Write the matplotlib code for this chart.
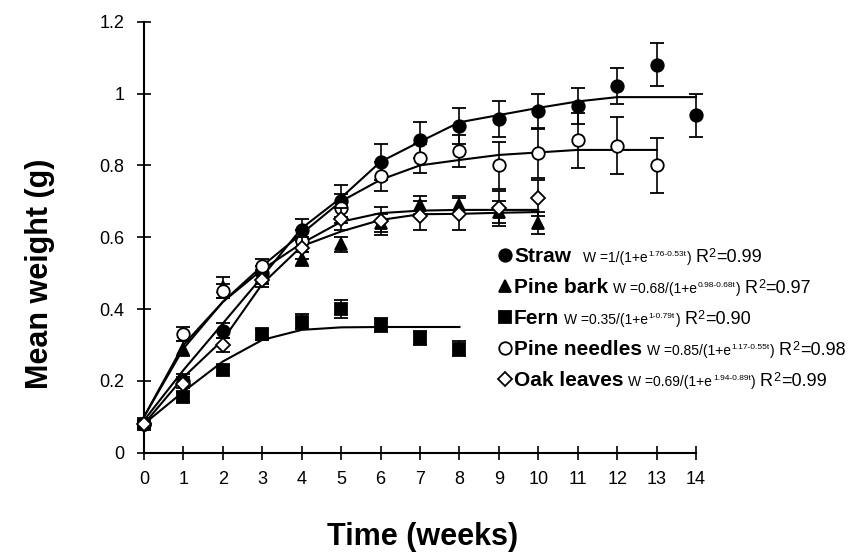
import matplotlib
matplotlib.use('Agg')
import matplotlib.pyplot as plt
from matplotlib.lines import Line2D

plt.rcParams['font.family'] = ['Liberation Sans', 'DejaVu Sans']

# ---------------- data ----------------
weeks = list(range(15))

straw = [0.08, 0.20, 0.34, 0.50, 0.62, 0.70, 0.81, 0.87, 0.91, 0.93, 0.95, 0.965, 1.02, 1.08, 0.94]
straw_err = [0.01, 0.02, 0.02, 0.02, 0.03, 0.045, 0.05, 0.05, 0.05, 0.05, 0.05, 0.05, 0.05, 0.06, 0.06]
straw_fit = [0.09, 0.23, 0.36, 0.49, 0.625, 0.71, 0.81, 0.866, 0.92, 0.94, 0.96, 0.978, 0.99, 0.99, 0.99]

pine_bark = [0.08, 0.29, 0.46, 0.49, 0.54, 0.58, 0.64, 0.69, 0.69, 0.67, 0.64]
pine_bark_err = [0.01, 0.02, 0.03, 0.02, 0.02, 0.02, 0.025, 0.025, 0.025, 0.03, 0.03]
pine_bark_fit = [0.10, 0.29, 0.42, 0.51, 0.583, 0.643, 0.667, 0.674, 0.676, 0.676, 0.676]

fern = [0.08, 0.155, 0.23, 0.33, 0.365, 0.40, 0.355, 0.32, 0.29]
fern_err = [0.01, 0.015, 0.015, 0.015, 0.02, 0.025, 0.02, 0.02, 0.02]
fern_fit = [0.08, 0.17, 0.254, 0.314, 0.342, 0.349, 0.35, 0.35, 0.35]

pine_needles = [0.08, 0.33, 0.45, 0.52, 0.59, 0.68, 0.77, 0.82, 0.84, 0.80, 0.835, 0.87, 0.855, 0.80]
pine_needles_err = [0.01, 0.02, 0.02, 0.02, 0.03, 0.04, 0.04, 0.04, 0.045, 0.065, 0.07, 0.077, 0.08, 0.077]
pine_needles_fit = [0.10, 0.30, 0.42, 0.52, 0.61, 0.70, 0.76, 0.80, 0.815, 0.829, 0.836, 0.843, 0.843, 0.843]

oak = [0.08, 0.19, 0.30, 0.48, 0.57, 0.65, 0.645, 0.66, 0.665, 0.68, 0.71]
oak_err = [0.01, 0.02, 0.02, 0.02, 0.03, 0.03, 0.04, 0.04, 0.045, 0.05, 0.05]
oak_fit = [0.08, 0.21, 0.314, 0.47, 0.575, 0.616, 0.648, 0.664, 0.665, 0.668, 0.67]

names = ['Straw', 'Pine bark', 'Fern', 'Pine needles', 'Oak leaves']
formula_pre = ['W =1/(1+e', 'W =0.68/(1+e', 'W =0.35/(1+e', 'W =0.85/(1+e', 'W =0.69/(1+e']
formula_exp = ['1.76-0.53t', '0.98-0.68t', '1-0.79t', '1.17-0.55t', '1.94-0.89t']
r2_text = ['0.99', '0.97', '0.90', '0.98', '0.99']

xticks = list(range(15))
yticks = [0, 0.2, 0.4, 0.6, 0.8, 1.0, 1.2]
ytick_labels = ['0', '0.2', '0.4', '0.6', '0.8', '1', '1.2']

# ---------------- figure ----------------
W, H = 853, 554
fig = plt.figure(figsize=(W / 100, H / 100), dpi=100)
x0, x1, y0, y1 = 144, 696, 452.7, 21.7
ax = fig.add_axes([x0 / W, 1 - y0 / H, (x1 - x0) / W, (y0 - y1) / H])
ax.set_xlim(0, 14)
ax.set_ylim(0, 1.2)
for s in ['top', 'right']:
    ax.spines[s].set_visible(False)
for s in ['left', 'bottom']:
    ax.spines[s].set_linewidth(1.5)
ax.set_xticks(xticks)
ax.set_xticklabels([str(t) for t in xticks])
ax.set_yticks(yticks)
ax.set_yticklabels(ytick_labels)
ax.tick_params(direction='inout', length=10, width=1.2, labelsize=13, color='black')
ax.tick_params(axis='y', pad=9)
ax.tick_params(axis='x', pad=8)

series = [
    (straw, straw_err, straw_fit, 'o', 'black', 9, 3),
    (pine_bark, pine_bark_err, pine_bark_fit, '^', 'black', 9, 4),
    (fern, fern_err, fern_fit, 's', 'black', 8, 5),
    (pine_needles, pine_needles_err, pine_needles_fit, 'o', 'white', 9, 6),
    (oak, oak_err, oak_fit, 'D', 'white', 7, 7),
]

for vals, err, fit, mk, mfc, ms, z in series:
    t = weeks[:len(fit)]
    ax.plot(t, fit, color='black', lw=1.5, zorder=2, clip_on=False)
for vals, err, fit, mk, mfc, ms, z in series:
    t = weeks[:len(vals)]
    ax.errorbar(t, vals, yerr=err, fmt=mk, ms=ms, mfc=mfc, mec='black', mew=1.3,
                color='black', ecolor='black', elinewidth=1.2, capsize=5, capthick=1.2,
                zorder=z, clip_on=False)

# axis labels
fig.text(423 / W, 1 - 537 / H, 'Time (weeks)', fontsize=22, fontweight='bold',
         ha='center', va='center')
fig.text(40 / W, 1 - 274 / H, 'Mean weight (g)', fontsize=22, fontweight='bold',
         ha='center', va='center', rotation=90)

# ---------------- legend with fit equations ----------------
def fx(px):
    return px / W

def fy(py):
    return 1 - py / H

legend_markers = [('o', 'black', 9), ('^', 'black', 9), ('s', 'black', 8), ('o', 'white', 9), ('D', 'white', 7)]
baselines = [262, 293, 324, 355, 386]
name_gaps = [12, 5, 5, 5, 5]

fig.canvas.draw()
renderer = fig.canvas.get_renderer()

for i, name in enumerate(names):
    base = baselines[i]
    mk, mfc, ms = legend_markers[i]
    fig.add_artist(Line2D([fx(505)], [fy(base - 7)], marker=mk, ms=ms, mfc=mfc, mec='black',
                          mew=1.3, ls='none', transform=fig.transFigure))
    t1 = fig.text(fx(514), fy(base), name, fontsize=15, fontweight='bold', va='baseline')
    e1 = t1.get_window_extent(renderer)
    t2 = fig.text(fx(e1.x1 + name_gaps[i]), fy(base), formula_pre[i], fontsize=10, va='baseline')
    e2 = t2.get_window_extent(renderer)
    t3 = fig.text(fx(e2.x1 + 0.5), fy(base - 6), formula_exp[i], fontsize=6, va='baseline')
    e3 = t3.get_window_extent(renderer)
    t4 = fig.text(fx(e3.x1 + 0.5), fy(base), ')', fontsize=10, va='baseline')
    e4 = t4.get_window_extent(renderer)
    t5 = fig.text(fx(e4.x1 + 4), fy(base), 'R', fontsize=13, va='baseline')
    e5 = t5.get_window_extent(renderer)
    t6 = fig.text(fx(e5.x1 + 0.5), fy(base - 5), '2', fontsize=9, va='baseline')
    e6 = t6.get_window_extent(renderer)
    fig.text(fx(e6.x1 + 0.5), fy(base), '=' + r2_text[i], fontsize=13, va='baseline')

fig.savefig('out.png', dpi=100)
